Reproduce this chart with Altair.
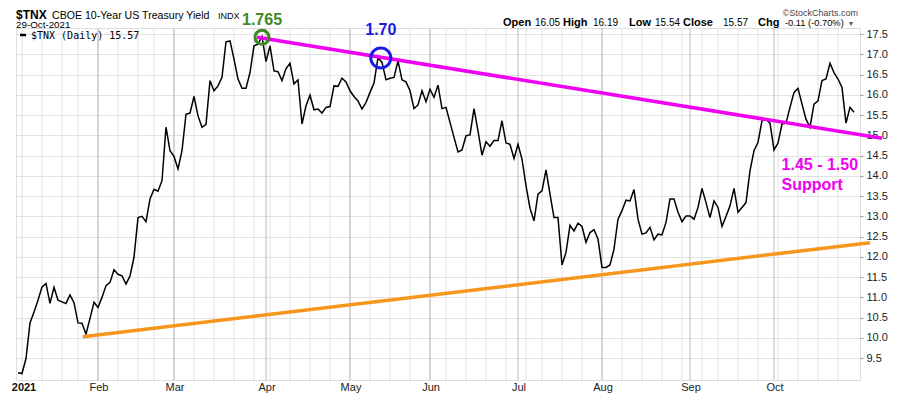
import altair as alt
import pandas as pd
import numpy as np

# ---- Daily closes of $TNX (10-yr yield x10); first value is 31-Dec-2020 ----
jan = [9.14, 9.12, 9.49, 10.37, 10.64, 10.93, 11.26, 11.34, 10.85, 11.25, 10.93,
       10.89, 10.85, 11.06, 10.87, 10.37, 10.36, 10.09, 10.48, 10.88]
feb = [10.75, 11.00, 11.29, 11.37, 11.68, 11.57, 11.53, 11.33, 11.53, 11.99,
       12.97, 13.00, 12.87, 13.43, 13.67, 13.62, 13.88, 15.20, 14.62]
mar = [14.48, 14.17, 14.62, 15.52, 15.55, 15.96, 15.48, 15.20, 15.27, 16.35,
       16.10, 16.22, 16.43, 17.31, 17.33, 16.88, 16.39, 16.16, 16.16, 16.55,
       17.21, 17.25, 17.44]
apr = [16.82, 17.21, 16.59, 16.57, 16.35, 16.65, 16.78, 16.27, 16.37, 15.28,
       15.73, 15.99, 15.63, 15.65, 15.55, 15.69, 15.71, 16.22, 16.21, 16.41, 16.32]
may = [16.10, 15.96, 15.85, 15.65, 15.81, 16.06, 16.29, 16.92, 16.80, 16.37,
       16.41, 16.43, 16.84, 16.37, 16.32, 16.10, 15.66, 15.75, 16.10, 15.83]
jun = [16.14, 15.94, 16.24, 15.66, 15.69, 15.32, 14.95, 14.59, 14.64, 14.99,
       15.01, 15.66, 15.11, 14.51, 14.84, 14.73, 14.87, 14.87, 15.36, 14.81,
       14.78, 14.43]
jul = [14.78, 14.41, 13.76, 13.20, 12.89, 13.55, 13.63, 14.15, 13.55, 12.97,
       12.97, 11.80, 12.11, 12.78, 12.64, 12.83, 12.75, 12.36, 12.60, 12.67, 12.44]
aug = [11.74, 11.74, 11.80, 12.19, 12.93, 13.14, 13.40, 13.38, 13.66, 12.93,
       12.56, 12.59, 12.73, 12.42, 12.56, 12.54, 12.85, 13.43, 13.43, 13.10,
       12.87, 13.01]
sep = [13.01, 12.93, 13.22, 13.69, 13.34, 12.97, 13.38, 13.22, 12.75, 13.00,
       13.26, 13.69, 13.10, 13.22, 13.34, 14.13, 14.62, 14.83, 15.36, 15.40, 15.30]
octo = [14.64, 14.81, 15.28, 15.30, 15.69, 16.06, 16.16, 15.77, 15.40, 15.20,
        15.77, 15.85, 16.35, 16.39, 16.78, 16.55, 16.39, 16.18, 15.30, 15.69, 15.57]

month_labels = ["2021", "Feb", "Mar", "Apr", "May", "Jun", "Jul", "Aug", "Sep", "Oct"]
y_ticks = [9.5, 10.0, 10.5, 11.0, 11.5, 12.0, 12.5, 13.0, 13.5, 14.0, 14.5,
           15.0, 15.5, 16.0, 16.5, 17.0, 17.5]
holidays = ["2021-01-01", "2021-01-18", "2021-02-15", "2021-04-02",
            "2021-05-31", "2021-07-05", "2021-09-06"]

# trendlines (trading-day index, value)
res_i = [58.75, 215]
res_v = [17.42, 14.93]
sup_i = [15.2, 212]
sup_v = [10.03, 12.35]

# circled highs
circ_i = [60, 89.7]
circ_v = [17.42, 16.91]
circ_lab = ["1.765", "1.70"]
circ_col = ["#3b8a24", "#1c1ce0"]
circ_size = [196, 400]
circ_dy = [-17, -28]

support_lab = ["1.45 - 1.50", "Support"]
support_i = [189.9, 189.9]
support_v = [14.27, 13.78]

closes = jan + feb + mar + apr + may + jun + jul + aug + sep + octo
dates = pd.bdate_range("2020-12-31", "2021-10-29", freq="C", holidays=holidays)
n = min(len(dates), len(closes))
df = pd.DataFrame({"i": np.arange(n) - 1, "v": closes[:n], "date": dates[:n]})

d2021 = df[df["i"] >= 0].copy()
d2021["wk"] = d2021["date"].dt.isocalendar().week.values
weeks = d2021.groupby("wk").head(1)[["i"]]
mstarts = d2021.groupby(d2021["date"].dt.month).head(1)[["i"]].reset_index(drop=True)
mstarts["lab"] = month_labels[:len(mstarts)]
majors = mstarts.iloc[1:]

W, H = 844, 352
xs = alt.Scale(domain=[-1.5, 209.5], nice=False, zero=False)
ys = alt.Scale(domain=[8.96, 17.65], nice=False, zero=False)
FONT = "Liberation Sans"

y_axis = alt.Axis(
    orient="right", values=y_ticks, format=".1f", grid=True, gridColor="#e1e1e1",
    gridWidth=1, tickSize=3, tickColor="#9a9a9a", domain=False, labelFont=FONT,
    labelFontSize=11, labelColor="#222222", labelPadding=3, title=None)


def X(f):
    return alt.X(f, type="quantitative", scale=xs, axis=None)


def Y(f):
    return alt.Y(f, type="quantitative", scale=ys, axis=y_axis)


week_rules = alt.Chart(weeks).mark_rule(color="#e1e1e1", strokeWidth=1).encode(x=X("i"))
month_rules = alt.Chart(majors).mark_rule(color="#b9b9b9", strokeWidth=1).encode(x=X("i"))

price = alt.Chart(df).mark_line(color="#000000", strokeWidth=1.5).encode(x=X("i"), y=Y("v"))

res = alt.Chart(pd.DataFrame({"i": res_i, "v": res_v})).mark_line(
    color="#f000f0", strokeWidth=3.5, clip=False).encode(x=X("i"), y=Y("v"))
sup = alt.Chart(pd.DataFrame({"i": sup_i, "v": sup_v})).mark_line(
    color="#f7961c", strokeWidth=3.5, clip=False).encode(x=X("i"), y=Y("v"))

cdf = pd.DataFrame({"i": circ_i, "v": circ_v, "lab": circ_lab, "col": circ_col,
                    "sz": circ_size, "dy": circ_dy})
circles = alt.Chart(cdf).mark_point(shape="circle", filled=False, strokeWidth=3,
                                    opacity=1, clip=False).encode(
    x=X("i"), y=Y("v"), color=alt.Color("col:N", scale=None),
    size=alt.Size("sz:Q", scale=None))
clabs = []
for k in range(len(circ_lab)):
    clabs.append(alt.Chart(cdf.iloc[[k]]).mark_text(
        font=FONT, fontSize=16, fontWeight="bold", baseline="middle", align="center",
        dy=circ_dy[k], color=circ_col[k], clip=False).encode(x=X("i"), y=Y("v"), text="lab:N"))

sdf = pd.DataFrame({"i": support_i, "v": support_v, "lab": support_lab})
slab = alt.Chart(sdf).mark_text(font=FONT, fontSize=16, fontWeight="bold", align="left",
                                baseline="middle", color="#f000f0", clip=False).encode(
    x=X("i"), y=Y("v"), text="lab:N")

mlab_bold = alt.Chart(mstarts.iloc[[0]]).mark_text(
    font=FONT, fontSize=11, fontWeight="bold", baseline="middle", align="center", dx=2,
    color="#111111").encode(x=X("i"), y=alt.value(H + 8), text="lab:N")
mlab = alt.Chart(majors).mark_text(
    font=FONT, fontSize=11, baseline="middle", align="center", dx=1,
    color="#222222").encode(x=X("i"), y=alt.value(H + 8), text="lab:N")


def txt(text, px, py, size, weight="normal", color="#000000", align="left", font=FONT):
    return alt.Chart(pd.DataFrame({"t": [text]})).mark_text(
        align=align, baseline="alphabetic", fontSize=size, fontWeight=weight,
        color=color, font=font).encode(x=alt.value(px), y=alt.value(py), text="t:N")


HY = -2  # baseline of the quote line
TY = -9.5  # baseline of the title line
header = [
    txt("$TNX", 0, TY, 12, "bold"),
    txt("CBOE 10-Year US Treasury Yield", 36, TY, 10.6),
    txt("INDX", 202, TY, 9),
    txt("29-Oct-2021", 0, -0.5, 9.8),
    txt("\u00a9StockCharts.com", 842, -12, 9, color="#444444", align="right"),
    txt("Open", 487, HY, 11, "bold"),
    txt("16.05", 519, HY, 10),
    txt("High", 547, HY, 11, "bold"),
    txt("16.19", 577, HY, 10),
    txt("Low", 613, HY, 11, "bold"),
    txt("15.54", 639, HY, 10),
    txt("Close", 667, HY, 11, "bold"),
    txt("15.57", 707, HY, 10),
    txt("Chg", 742, HY, 11, "bold"),
    txt("-0.11 (-0.70%)", 769, HY, 9.3),
    txt("\u25be", 833, HY, 8, color="#555555"),
    txt("$TNX (Daily) 15.57", 15, 11, 10, font="DejaVu Sans Mono"),
]
legend_dash = alt.Chart(pd.DataFrame({"a": [0]})).mark_rule(
    color="#000000", strokeWidth=2.5).encode(
    x=alt.value(4), x2=alt.value(10), y=alt.value(7))

chart = alt.layer(
    week_rules, month_rules, price, sup, res, circles, *clabs, slab,
    mlab_bold, mlab, *header, legend_dash,
).properties(
    width=W, height=H,
    autosize=alt.AutoSizeParams(type="none"),
    padding={"left": 8, "top": 20, "right": 32, "bottom": 16},
).configure_view(stroke="#b5b5b5", strokeWidth=1).configure(background="white")

chart.save("out.html", embed_options={"renderer": "svg", "actions": False})
